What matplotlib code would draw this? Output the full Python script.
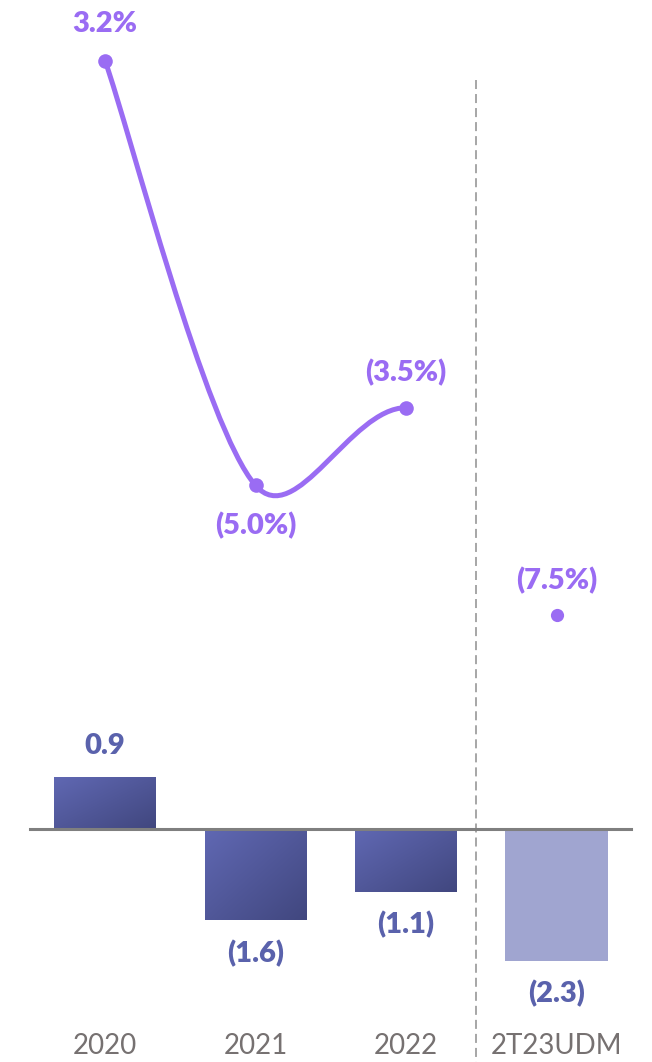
import numpy as np
import matplotlib
matplotlib.use("Agg")
import matplotlib.pyplot as plt
from matplotlib.colors import LinearSegmentedColormap
from matplotlib.path import Path
from matplotlib.patches import PathPatch
import matplotlib.transforms as mtransforms

# --- data -------------------------------------------------------------
categories = ["2020", "2021", "2022", "2T23UDM"]
bar_values = [0.9, -1.6, -1.1, -2.3]
bar_labels = ["0.9", "(1.6)", "(1.1)", "(2.3)"]
pct_values = [3.2, -5.0, -3.5, -7.5]
pct_labels = ["3.2%", "(5.0%)", "(3.5%)", "(7.5%)"]
n_actual = 3  # first three periods are full years, joined by the curve

# --- style ------------------------------------------------------------
plt.rcParams["font.family"] = ["Lato", "DejaVu Sans"]
plt.rcParams["lines.scale_dashes"] = False

BAR_LIGHT = "#6068B3"
BAR_DARK = "#41477F"
BAR_FORECAST = "#A0A5D0"
BAR_TEXT = "#5A62AC"
LINE_COLOR = "#9A6CF3"
TICK_COLOR = "#767171"
AXIS_COLOR = "#7F7F7F"
DIVIDER_COLOR = "#A6A6A6"
LABEL_SIZE = 21
LABEL_WEIGHT = 800

W, H = 652, 1062
AX_BOTTOM_PX = 1020
fig = plt.figure(figsize=(W / 100, H / 100), dpi=100)
ax = fig.add_axes([0, (H - AX_BOTTOM_PX) / H, 1, AX_BOTTOM_PX / H])
ax2 = ax.twinx()

x = np.arange(len(categories))
step_px = 150.5
first_px = 105
xlim = (-first_px / step_px, (W - first_px) / step_px)

# bar scale: zero sits 828 px from the top, 57.4 px per unit
bar_unit = 57.4
bar_zero = 828.5
bar_ylim = (-(AX_BOTTOM_PX - bar_zero) / bar_unit, bar_zero / bar_unit)
# percentage scale
pct_unit = 51.8
pct_zero = 226.4
pct_ylim = (-(AX_BOTTOM_PX - pct_zero) / pct_unit, pct_zero / pct_unit)

for a in (ax, ax2):
    a.set_xlim(*xlim)
    for s in a.spines.values():
        s.set_visible(False)
    a.tick_params(left=False, right=False, labelleft=False, labelright=False)
ax.set_ylim(*bar_ylim)
ax2.set_ylim(*pct_ylim)
ax2.patch.set_visible(False)

# --- bars with a diagonal gradient --------------------------------------
bar_w = 102 / step_px
grad_cmap = LinearSegmentedColormap.from_list("bar_grad", [BAR_LIGHT, BAR_DARK])
gu, gv = np.meshgrid(np.linspace(0, 1, 64), np.linspace(0, 1, 64))
grad = (gu + gv) / 2.0

bars = ax.bar(x, bar_values, width=bar_w, color=BAR_FORECAST, zorder=2,
              linewidth=0)
for i, b in enumerate(bars):
    if i < n_actual:
        b.set_facecolor("none")
        x0, y0 = b.get_x(), b.get_y()
        x1, y1 = x0 + b.get_width(), y0 + b.get_height()
        ylo, yhi = min(y0, y1), max(y0, y1)
        im = ax.imshow(grad, cmap=grad_cmap, extent=[x0, x1, ylo, yhi],
                       origin="upper", aspect="auto", zorder=2,
                       interpolation="bilinear")
        im.set_clip_path(b)
ax.set_xlim(*xlim)
ax.set_ylim(*bar_ylim)

# zero line
ax.axhline(0, xmin=30 / W, xmax=631 / W, color=AXIS_COLOR, lw=2.2, zorder=3)

# bar value labels
px2pt = 72 / 100
for xi, v, lab in zip(x, bar_values, bar_labels):
    off = 31 if v >= 0 else -33
    ax.annotate(lab, (xi, v), xytext=(0, off * px2pt), textcoords="offset points",
                ha="center", va="center", fontsize=LABEL_SIZE,
                fontweight=LABEL_WEIGHT, color=BAR_TEXT, zorder=4)

# --- smoothed percentage line -----------------------------------------
P = np.column_stack([x[:n_actual], pct_values[:n_actual]]).astype(float)
verts = [P[0]]
codes = [Path.MOVETO]
# first segment
c1 = P[0] + (P[1] - P[0]) / 6
c2 = P[1] - (P[2] - P[0]) / 6
verts += [c1, c2, P[1]]
codes += [Path.CURVE4] * 3
# second segment, easing flat into the last point
c1 = P[1] + 0.8 * (P[2] - P[0]) / 6
c2 = np.array([P[2, 0] - 0.37 * (P[2, 0] - P[1, 0]), P[2, 1]])
verts += [c1, c2, P[2]]
codes += [Path.CURVE4] * 3
curve = PathPatch(Path(verts, codes), facecolor="none", edgecolor=LINE_COLOR,
                  lw=3.6, capstyle="round", zorder=5)
ax2.add_patch(curve)
ax2.plot(x[:n_actual], pct_values[:n_actual], "o", color=LINE_COLOR,
         markersize=10.5, markeredgewidth=0, zorder=6)
ax2.plot(x[n_actual:], pct_values[n_actual:], "o", color=LINE_COLOR,
         markersize=9.5, markeredgewidth=0, zorder=6)

pct_offsets = [37, -40, 35, 34]
for xi, v, lab, off in zip(x, pct_values, pct_labels, pct_offsets):
    ax2.annotate(lab, (xi, v), xytext=(0, off * px2pt), textcoords="offset points",
                 ha="center", va="center", fontsize=LABEL_SIZE,
                 fontweight=LABEL_WEIGHT, color=LINE_COLOR, zorder=7)
ax2.set_ylim(*pct_ylim)

# --- divider between full years and the trailing period -----------------
div_x = (476 - first_px) / step_px
trans = mtransforms.blended_transform_factory(ax.transData, ax.transAxes)
ax.plot([div_x, div_x], [1 - 80 / AX_BOTTOM_PX, -(H - AX_BOTTOM_PX) / AX_BOTTOM_PX],
        transform=trans, color=DIVIDER_COLOR, lw=1.4, dashes=(6.5, 3.6),
        clip_on=False, zorder=1)

# --- category labels ----------------------------------------------------
ax.set_xticks(x)
ax.set_xticklabels(categories, fontsize=20, color=TICK_COLOR)
ax.tick_params(axis="x", length=0, pad=9, labelbottom=True)

fig.savefig("out.png", dpi=100, facecolor="white")
